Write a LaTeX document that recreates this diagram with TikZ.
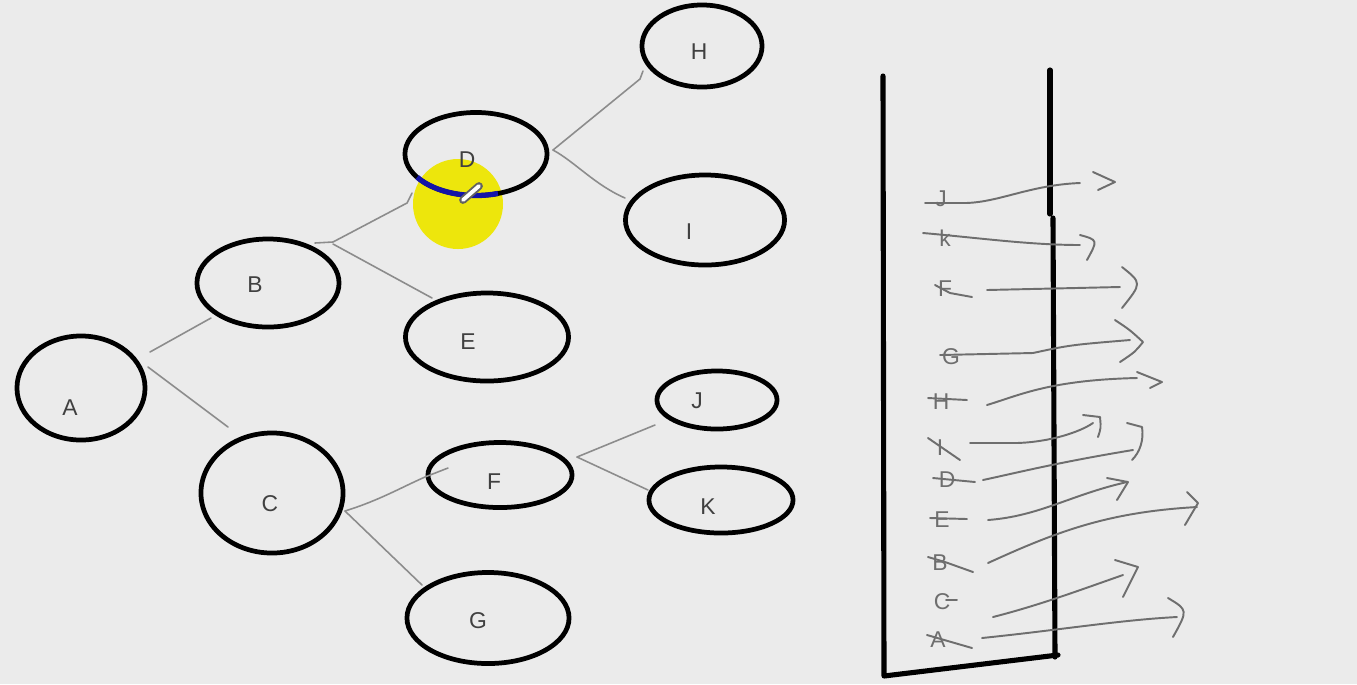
\documentclass[tikz,border=0pt]{standalone}
\usepackage{fontspec}
\setmainfont{Liberation Sans}
\usetikzlibrary{shapes.geometric}
\definecolor{bg}{HTML}{EBEBEB}
\definecolor{conn}{HTML}{8C8C8C}
\definecolor{txt}{HTML}{404040}
\definecolor{hl}{HTML}{EDE60C}
\definecolor{pen}{HTML}{1414A8}
\definecolor{ink}{HTML}{6E6E6E}
\begin{document}
\begin{tikzpicture}[x=0.01cm,y=-0.01cm,
  ell/.style={ellipse, draw=black, line width=1.35pt, inner sep=0pt},
  lbl/.style={font=\fontsize{6.5}{7}\selectfont, text=txt, inner sep=0pt},
  slbl/.style={font=\fontsize{6.5}{7}\selectfont, text=ink, inner sep=0pt},
  conn/.style={draw=conn, line width=0.45pt, line cap=round, line join=round},
  wall/.style={draw=black, line width=1.45pt, line cap=round, line join=round},
  stroke/.style={draw=ink, line width=0.55pt, line cap=round, line join=round}]
\fill[bg] (0,0) rectangle (1357,684);
\useasboundingbox (0,0) rectangle (1357,684);

% highlight behind D
\fill[hl] (458,204) circle[radius=45];

% tree nodes
\node[ell, minimum width=1.28cm, minimum height=1.04cm] (A) at (81,388) {};
\node[ell, minimum width=1.42cm, minimum height=0.88cm] (B) at (268,283) {};
\node[ell, minimum width=1.42cm, minimum height=1.20cm] (C) at (272,493) {};
\node[ell, minimum width=1.42cm, minimum height=0.83cm] (D) at (476,154) {};
\node[ell, minimum width=1.63cm, minimum height=0.88cm] (E) at (487,337) {};
\node[ell, minimum width=1.44cm, minimum height=0.65cm] (F) at (500,475) {};
\node[ell, minimum width=1.62cm, minimum height=0.91cm] (G) at (488,618) {};
\node[ell, minimum width=1.20cm, minimum height=0.82cm] (H) at (702,46) {};
\node[ell, minimum width=1.59cm, minimum height=0.90cm] (I) at (705,220) {};
\node[ell, minimum width=1.20cm, minimum height=0.58cm] (J) at (717,400) {};
\node[ell, minimum width=1.44cm, minimum height=0.66cm] (K) at (721,500) {};

% blue pen stroke on D and marker
\draw[pen, line width=1.5pt] ([shift={(146:71 and 41.5)}]D.center) arc[start angle=146, end angle=72, x radius=71, y radius=41.5];
\draw[conn!70!black, line width=2.2pt, line cap=round] (463,200) -- (479,186);
\draw[white, line width=1.1pt, line cap=round] (463,200) -- (479,186);

% labels
\node[lbl] (tA) at (70,408) {A};
\node[lbl] (tB) at (255,285) {B};
\node[lbl] (tC) at (270,504) {C};
\node[lbl] (tD) at (467,160) {D};
\node[lbl] (tE) at (468,342) {E};
\node[lbl] (tF) at (494,482) {F};
\node[lbl] (tG) at (478,621) {G};
\node[lbl] (tH) at (699,52) {H};
\node[lbl] (tI) at (689,232) {I};
\node[lbl] (tJ) at (697,401) {J};
\node[lbl] (tK) at (708,507) {K};

% connector free ends
\coordinate (a1) at (150,352);
\coordinate (a2) at (148,367);
\coordinate (b1) at (211,318);
\coordinate (c1) at (228,427);
\coordinate (bf) at (315,243);
\coordinate (d1) at (412,193);
\coordinate (e1) at (432,298);
\coordinate (cf) at (345,511);
\coordinate (f1) at (448,468);
\coordinate (g1) at (422,585);
\coordinate (df) at (553,150);
\coordinate (h1) at (643,71);
\coordinate (i1) at (625,198);
\coordinate (ff) at (577,457);
\coordinate (j1) at (655,425);
\coordinate (k1) at (648,490);

% connectors
\draw[conn] (a1) -- (b1);
\draw[conn] (a2) -- (c1);
\draw[conn] (bf) -- (333,242) -- (407,203) -- (d1);
\draw[conn] (333,244) -- (e1);
\draw[conn] (cf) .. controls (380,500) and (400,488) .. (425,477) -- (f1);
\draw[conn] (cf) -- (g1);
\draw[conn] (df) -- (640,79) -- (h1);
\draw[conn] (df) .. controls (575,162) and (595,185) .. (i1);
\draw[conn] (ff) -- (j1);
\draw[conn] (ff) -- (k1);

% stack
\draw[wall] (883,76) -- (884,676) -- (1058,655);
\draw[wall] (1050,70) -- (1050,214);
\draw[wall] (1053,218) -- (1055,657);

% stack labels
\node[slbl] (sJ) at (941,199) {J};
\node[slbl] (sk) at (945,238) {k};
\node[slbl] (sF) at (945,289) {F};
\node[slbl] (sG) at (951,357) {G};
\node[slbl] (sH) at (941,402) {H};
\node[slbl] (sI) at (940,448) {I};
\node[slbl] (sD) at (947,480) {D};
\node[slbl] (sE) at (942,520) {E};
\node[slbl] (sB) at (940,563) {B};
\node[slbl] (sC) at (942,602) {C};
\node[slbl] (sA) at (938,640) {A};

% strike-outs and moving arrows
\draw[stroke] (925,203) -- (966,203) .. controls (1000,202) and (1030,185) .. (1080,183);
\draw[stroke] (1093,172) -- (1115,182) -- (1098,190);

\draw[stroke] (923,233) .. controls (980,238) and (1030,245) .. (1080,245);
\draw[stroke] (1080,235) .. controls (1098,240) .. (1087,260);

\draw[stroke] (935,285) -- (950,293) -- (972,297);
\draw[stroke] (987,290) -- (1120,287);
\draw[stroke] (1122,267) .. controls (1142,283) .. (1122,308);

\draw[stroke] (940,355) -- (1033,353) .. controls (1070,345) .. (1130,340);
\draw[stroke] (1115,320) .. controls (1130,330) .. (1143,342) .. controls (1135,352) .. (1120,362);

\draw[stroke] (928,398) -- (967,400);
\draw[stroke] (987,405) .. controls (1020,395) and (1050,380) .. (1137,378);
\draw[stroke] (1137,372) -- (1162,382) -- (1150,388);

\draw[stroke] (928,438) -- (960,460);
\draw[stroke] (970,443) -- (1017,443) .. controls (1050,442) and (1080,432) .. (1093,423);
\draw[stroke] (1083,415) -- (1100,417) .. controls (1101,428) .. (1098,437);

\draw[stroke] (933,478) -- (975,482);
\draw[stroke] (983,480) .. controls (1020,472) and (1060,462) .. (1133,450);
\draw[stroke] (1127,423) -- (1142,427) .. controls (1144,440) and (1140,452) .. (1132,460);

\draw[stroke] (930,518) -- (967,519);
\draw[stroke] (988,520) .. controls (1040,516) and (1070,495) .. (1127,482);
\draw[stroke] (1107,478) -- (1128,482) -- (1117,500);

\draw[stroke] (928,557) -- (945,562) -- (973,572);
\draw[stroke] (988,563) .. controls (1060,530) and (1110,512) .. (1197,507);
\draw[stroke] (1187,492) -- (1198,503) -- (1185,525);

\draw[stroke] (946,600) -- (957,600);
\draw[stroke] (993,617) .. controls (1040,605) and (1080,590) .. (1123,575);
\draw[stroke] (1115,560) -- (1138,567) -- (1123,597);

\draw[stroke] (927,635) -- (972,648);
\draw[stroke] (982,638) .. controls (1060,630) and (1120,620) .. (1177,617);
\draw[stroke] (1168,598) .. controls (1188,610) .. (1173,637);
\end{tikzpicture}
\end{document}
